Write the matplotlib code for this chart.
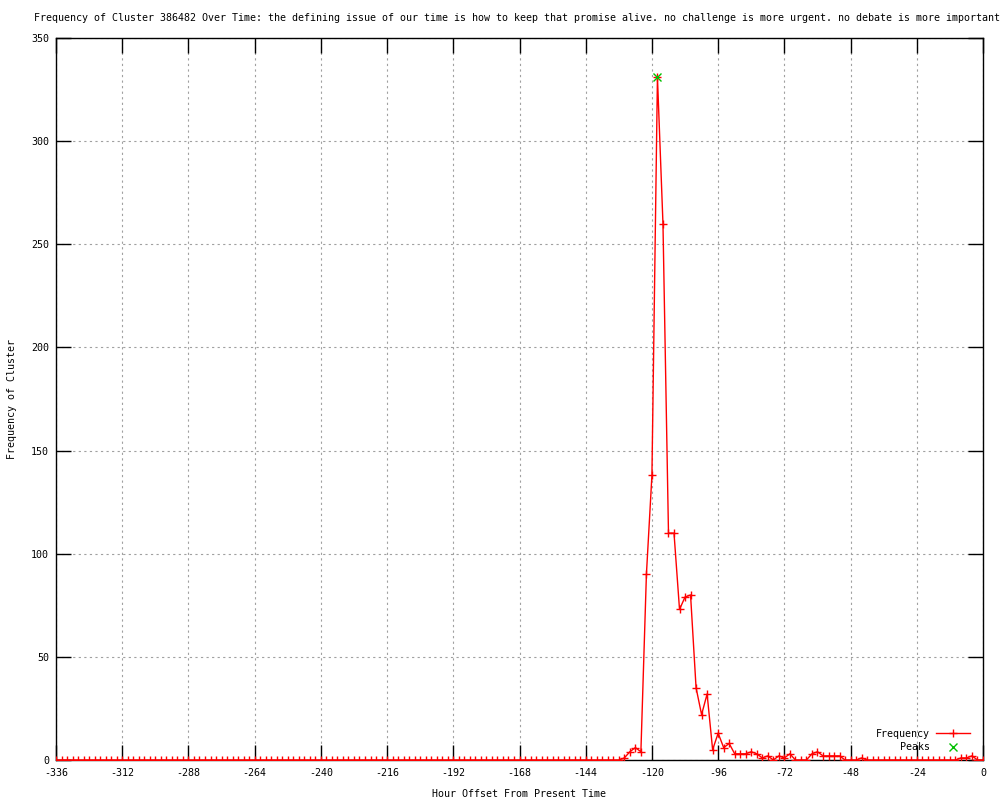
import matplotlib
matplotlib.use("Agg")
import matplotlib.pyplot as plt

# ---- data ----
hours = list(range(-336, 1, 2))
freq = [
    0, 0, 0, 0, 0, 0, 0, 0, 0, 0,   # -336 .. -318
    0, 0, 0, 0, 0, 0, 0, 0, 0, 0,   # -316 .. -298
    0, 0, 0, 0, 0, 0, 0, 0, 0, 0,   # -296 .. -278
    0, 0, 0, 0, 0, 0, 0, 0, 0, 0,   # -276 .. -258
    0, 0, 0, 0, 0, 0, 0, 0, 0, 0,   # -256 .. -238
    0, 0, 0, 0, 0, 0, 0, 0, 0, 0,   # -236 .. -218
    0, 0, 0, 0, 0, 0, 0, 0, 0, 0,   # -216 .. -198
    0, 0, 0, 0, 0, 0, 0, 0, 0, 0,   # -196 .. -178
    0, 0, 0, 0, 0, 0, 0, 0, 0, 0,   # -176 .. -158
    0, 0, 0, 0, 0, 0, 0, 0, 0, 0,   # -156 .. -138
    0,                              # -136
    0, 0, 1, 4, 6, 4, 90, 138, 331, 260,      # -134 .. -116
    110, 110, 73, 79, 80, 35, 22, 32, 5, 13,  # -114 .. -96
    6, 8, 3, 3, 3, 4, 3, 1, 2, 0,             # -94 .. -76
    2, 1, 3, 0, 0, 0, 3, 4, 2, 2,             # -74 .. -56
    2, 2, 0, 0, 0, 1, 0, 0, 0, 0,             # -54 .. -36
    0, 0, 0, 0, 0, 0, 0, 0, 0, 0,             # -34 .. -16
    0, 0, 0, 1, 1, 2, 0, 0,                   # -14 .. 0
]
peak_hours = [-118]
peak_values = [331]

x_ticks = list(range(-336, 1, 24))
y_ticks = list(range(0, 351, 50))

title = ("Frequency of Cluster 386482 Over Time: the defining issue of our time is how "
         "to keep that promise alive. no challenge is more urgent. no debate is more important")

# ---- figure ----
plt.rcParams['font.family'] = ['DejaVu Sans Mono']
plt.rcParams['axes.unicode_minus'] = False
fs = 7.2

fig = plt.figure(figsize=(10, 8), dpi=100)
ax = fig.add_axes([0.056, 0.05, 0.927, 0.9025])

ax.plot(hours, freq, color='#ff0000', lw=1.0, marker='+', markersize=6,
        markeredgewidth=1.0, label='Frequency', zorder=3)
ax.plot(peak_hours, peak_values, linestyle='none', color='#00c000', marker='x',
        markersize=6, markeredgewidth=1.0, label='Peaks', zorder=4)

ax.set_xlim(-336, 0)
ax.set_ylim(0, 350)
ax.set_xticks(x_ticks)
ax.set_yticks(y_ticks)
ax.tick_params(direction='in', length=11, width=1, top=True, right=True,
               labelsize=fs, color='black')
ax.tick_params(axis='x', pad=6)
ax.tick_params(axis='y', pad=5)
ax.grid(True, color='#a0a0a0', linestyle=(0, (2, 3)), lw=0.8)
for sp in ax.spines.values():
    sp.set_color('black')
    sp.set_linewidth(1.0)

ax.set_xlabel('Hour Offset From Present Time', fontsize=fs, labelpad=8)
ax.set_ylabel('Frequency of Cluster', fontsize=fs, labelpad=10)

fig.text(0.5165, 1 - 18 / 800, title, ha='center', va='center', fontsize=fs)

leg = ax.legend(loc='lower right', bbox_to_anchor=(0.99, 0.005), frameon=False,
                markerfirst=False, fontsize=fs, handlelength=3.4, handletextpad=0.6,
                labelspacing=0.35, borderaxespad=0.0, numpoints=1)

fig.savefig('out.png', dpi=100, facecolor='white')
